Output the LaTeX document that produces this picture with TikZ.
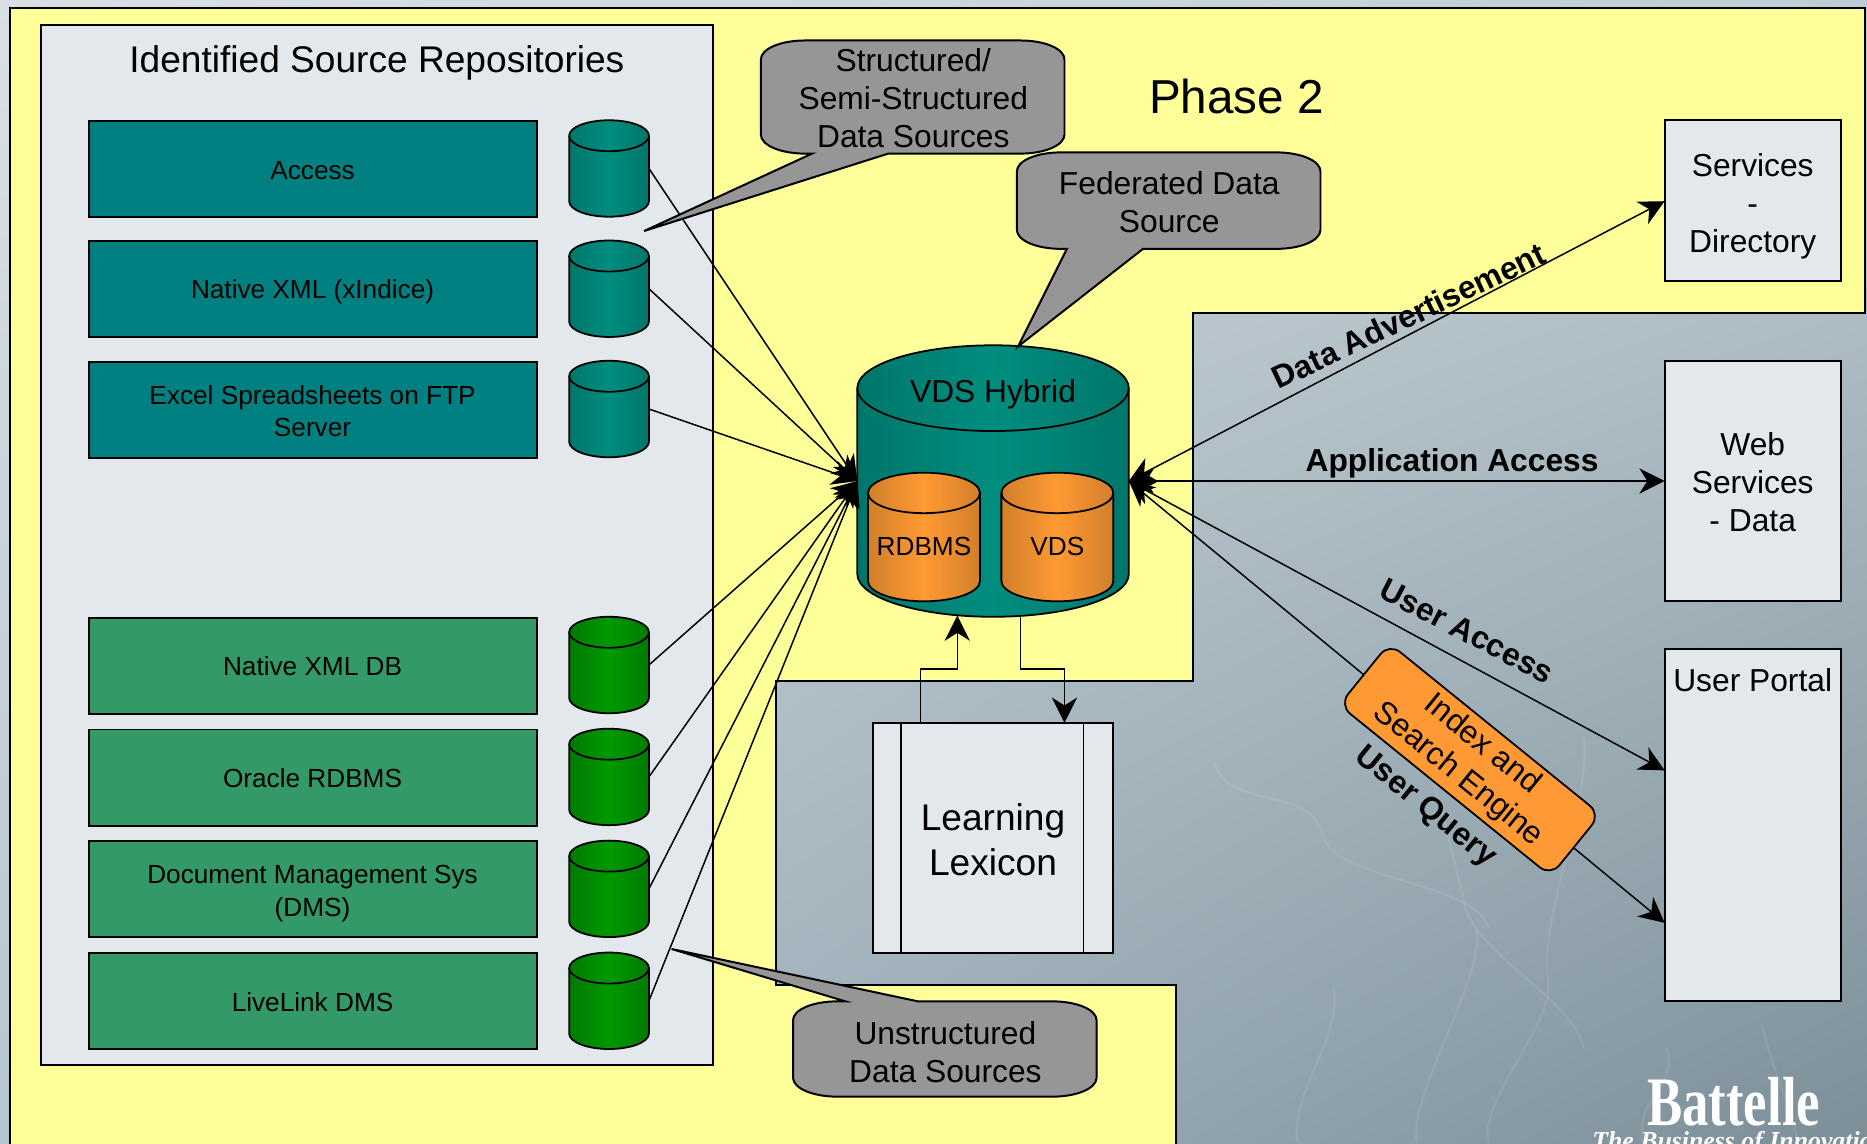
\documentclass[tikz,border=0pt]{standalone}
\usepackage{fontspec}
\setmainfont{Liberation Sans}
\newfontfamily\logofont{Liberation Serif}
\usetikzlibrary{arrows.meta,shadings}
\definecolor{panelc}{HTML}{E3E8EC}
\definecolor{yellowc}{HTML}{FFFF99}
\definecolor{tealc}{HTML}{008080}
\definecolor{greenc}{HTML}{339966}
\definecolor{grayc}{HTML}{969696}
\definecolor{orangec}{HTML}{FF9933}
\definecolor{orangee}{HTML}{D17F2B}
\definecolor{teale}{HTML}{00766A}
\definecolor{tealm}{HTML}{008E7F}
\definecolor{greene}{HTML}{007A00}
\definecolor{greenm}{HTML}{009900}
\definecolor{bgul}{HTML}{D8E0E4}
\definecolor{bgur}{HTML}{C0CCD3}
\definecolor{bgll}{HTML}{B4C6D0}
\definecolor{bglr}{HTML}{7C8F99}
\tikzset{
  x=0.6pt,y=-0.6pt,
  frameline/.style={draw=black,line width=1pt},
  srcbox/.style={frameline,minimum width=226pt,minimum height=48.4pt,inner sep=0pt,outer sep=0pt},
  srclab/.style={inner sep=0pt,align=center,font=\fontsize{13.2}{16.2}\selectfont},
  svcbox/.style={frameline,fill=panelc,minimum width=88.8pt,inner sep=0pt,outer sep=0pt},
  lab/.style={inner sep=0pt,align=center,font=\fontsize{16}{19.2}\selectfont},
  blab/.style={inner sep=0pt,font=\fontsize{16}{19.2}\selectfont\bfseries},
  arr/.style={line width=0.75pt,-{Stealth[length=12.7pt,width=12.7pt,inset=4pt]}},
  darr/.style={line width=0.75pt,{Stealth[length=12.7pt,width=12.7pt,inset=4pt]}-{Stealth[length=12.7pt,width=12.7pt,inset=4pt]}},
  streak/.style={white,opacity=.08,line width=1.2pt},
}
% name, x1, x2, top, bottom, end radius, edge colour, middle colour
\newcommand{\dbcyl}[8]{%
  \pgfmathsetmacro\myCx{(#2+#3)/2}\pgfmathsetmacro\myKx{0.5523*(#3-#2)/2}%
  \pgfmathsetmacro\myYt{#4+#6}\pgfmathsetmacro\myYb{#5-#6}\pgfmathsetmacro\myKy{0.5523*#6}%
  \pgfmathsetmacro\myCy{(#4+#5)/2}%
  \pgfmathsetmacro\myW{0.6*(#3-#2)}\pgfmathsetmacro\myH{0.6*(#5-#4)}%
  \shade[left color=#7,right color=#7,middle color=#8,draw=black,line width=.9pt]
    (#2,\myYt) -- (#2,\myYb)
    .. controls (#2,\myYb+\myKy) and (\myCx-\myKx,#5) .. (\myCx,#5)
    .. controls (\myCx+\myKx,#5) and (#3,\myYb+\myKy) .. (#3,\myYb)
    -- (#3,\myYt)
    .. controls (#3,\myYt-\myKy) and (\myCx+\myKx,#4) .. (\myCx,#4)
    .. controls (\myCx-\myKx,#4) and (#2,\myYt-\myKy) .. (#2,\myYt) -- cycle;
  \draw[line width=.9pt]
    (#2,\myYt) .. controls (#2,\myYt+\myKy) and (\myCx-\myKx,\myYt+#6) .. (\myCx,\myYt+#6)
    .. controls (\myCx+\myKx,\myYt+#6) and (#3,\myYt+\myKy) .. (#3,\myYt);
  \node[minimum width=\myW pt,minimum height=\myH pt,inner sep=0pt,outer sep=0pt] (#1) at (\myCx,\myCy) {};
}
\begin{document}
\begin{tikzpicture}
\useasboundingbox (0,0) rectangle (1568,960);
\clip (0,0) rectangle (1568,960);
% background
\shade[upper left=bgul,upper right=bgur,lower left=bgll,lower right=bglr] (0,0) rectangle (1568,960);
\foreach \a/\b/\c/\d in {1180/560/1230/760,1230/760/1330/880,1020/640/1110/700,1110/700/1250/780,1400/880/1380/960,1480/860/1510/960,1330/620/1300/820,1300/820/1250/960,1120/830/1090/960,1240/780/1190/960}{
  \draw[streak] (\a,\b) .. controls (\a+8,\b+40) and (\c-8,\d-40) .. (\c,\d);
}
% yellow field
\draw[frameline,fill=yellowc] (8,7) -- (1566,7) -- (1566,263) -- (1002,263) -- (1002,572) -- (652,572) -- (652,827) -- (988,827) -- (988,970) -- (8,970) -- cycle;
% repositories panel
\node[frameline,fill=panelc,minimum width=339pt,minimum height=523.8pt,inner sep=0pt,outer sep=0pt] (panel) at (316.7,457.7) {};
\node[inner sep=0pt,font=\fontsize{18.7}{22.8}\selectfont] (paneltitle) at (316.5,53) {Identified Source Repositories};
% source boxes
\node[srcbox,fill=tealc] (b1) at (262.8,142) {};
\node[srcbox,fill=tealc] (b2) at (262.8,243) {};
\node[srcbox,fill=tealc] (b3) at (262.8,344) {};
\node[srcbox,fill=greenc] (b4) at (262.8,559) {};
\node[srcbox,fill=greenc] (b5) at (262.8,653) {};
\node[srcbox,fill=greenc] (b6) at (262.8,747) {};
\node[srcbox,fill=greenc] (b7) at (262.8,841) {};
\node[srclab] (t1) at (262.5,143) {Access};
\node[srclab] (t2) at (262.5,245) {Native XML (xIndice)};
\node[srclab] (t3) at (262.5,345) {Excel Spreadsheets on FTP\\Server};
\node[srclab] (t4) at (262.5,559.5) {Native XML DB};
\node[srclab] (t5) at (262.5,653.5) {Oracle RDBMS};
\node[srclab] (t6) at (262.5,750.5) {Document Management Sys\\(DMS)};
\node[srclab] (t7) at (262.5,841.5) {LiveLink DMS};
% source cylinders
\dbcyl{c1}{478}{545}{101}{182}{13}{teale}{tealm}
\dbcyl{c2}{478}{545}{202}{283}{13}{teale}{tealm}
\dbcyl{c3}{478}{545}{303}{384}{13}{teale}{tealm}
\dbcyl{c4}{478}{545}{518}{599}{13}{greene}{greenm}
\dbcyl{c5}{478}{545}{612}{693}{13}{greene}{greenm}
\dbcyl{c6}{478}{545}{706}{787}{13}{greene}{greenm}
\dbcyl{c7}{478}{545}{800}{881}{13}{greene}{greenm}
% VDS hybrid
\dbcyl{vds}{720}{948}{290}{518}{36}{teale}{tealm}
\dbcyl{rdb}{729}{823}{397}{505}{17}{orangee}{orangec}
\dbcyl{vdsin}{841}{935}{397}{505}{17}{orangee}{orangec}
\node[lab] (vdst) at (834,331) {VDS Hybrid};
\node[srclab] (rdbt) at (776,459) {RDBMS};
\node[srclab] (vdsint) at (888,459) {VDS};
% incoming connectors
\foreach \n in {c1,c2,c3,c4,c5,c6,c7}{\draw[arr] (\n.east) -- (vds.west);}
% right-hand boxes
\node[svcbox,minimum height=81pt] (dir) at (1472,168.5) {};
\node[lab] (dirt) at (1472,173.5) {Services\\-\\Directory};
\node[svcbox,minimum height=121.2pt] (web) at (1472,404) {};
\node[lab] (webt) at (1472,405) {Web\\Services\\- Data};
\node[svcbox,minimum height=177.6pt] (portal) at (1472,693) {};
\node[lab] (portalt) at (1472,571.5) {User Portal};
\coordinate (dirin) at (1398,169);
\coordinate (portalA) at (1398,647);
\coordinate (portalB) at (1398,775);
\draw[darr] (vds.east) -- (dirin);
\draw[darr] (vds.east) -- (web.west);
\draw[darr] (vds.east) -- (portalA);
\draw[darr] (vds.east) -- (portalB);
\node[blab,rotate=25.5] (ladv) at (1183,265) {Data Advertisement};
\node[blab] (lapp) at (1219.5,389) {Application Access};
\node[blab,rotate=-27.5] (luse) at (1232,530) {User Access};
\node[blab,rotate=-39] (lqry) at (1197,678) {User Query};
% index engine
\node[draw=black,line width=.9pt,fill=orangec,rounded corners=7pt,rotate=-39,minimum width=137pt,minimum height=40pt,inner sep=0pt,align=center,font=\fontsize{16}{19.2}\selectfont] (idx) at (1234.5,638) {Index and\\Search Engine};
% lexicon
\node[frameline,fill=panelc,minimum width=121.2pt,minimum height=115.8pt,inner sep=0pt,outer sep=0pt] (lex) at (834,703.5) {};
\draw[line width=.9pt] (757,607) -- (757,800) (910,607) -- (910,800);
\node[inner sep=0pt,align=center,font=\fontsize{18.7}{22.8}\selectfont] (lext) at (834,705.5) {Learning\\Lexicon};
\coordinate (lexout) at (773,607);
\coordinate (lexin) at (894,607);
\coordinate (vdsout) at (857,517);
\coordinate (vdsbot) at (804,517);
\coordinate (ja) at (790,562);
\coordinate (jb) at (875,562);
\draw[arr] (lexout) |- (ja) -| (vdsbot);
\draw[arr] (vdsout) |- (jb) -| (lexin);
% callouts
\draw[frameline,fill=grayc] (676,34) .. controls (655.5,34) and (639,41) .. (639,50) -- (639,113)
  .. controls (639,122) and (655.5,129) .. (676,129)
  -- (682,129) -- (541,194) -- (746,129) -- (857,129)
  .. controls (877.5,129) and (894,122) .. (894,113) -- (894,50)
  .. controls (894,41) and (877.5,34) .. (857,34) -- cycle;
\node[lab] (cs) at (767,82.5) {Structured/\\Semi-Structured\\Data Sources};
\draw[frameline,fill=grayc] (891,128) .. controls (870.5,128) and (854,135) .. (854,144) -- (854,193)
  .. controls (854,202) and (870.5,209) .. (891,209)
  -- (896,209) -- (855,291) -- (960,209) -- (1072,209)
  .. controls (1092.5,209) and (1109,202) .. (1109,193) -- (1109,144)
  .. controls (1109,135) and (1092.5,128) .. (1072,128) -- cycle;
\node[lab] (cf) at (982,170) {Federated Data\\Source};
\draw[frameline,fill=grayc] (710,841) -- (564,797) -- (771,841) -- (884,841)
  .. controls (904.5,841) and (921,848) .. (921,857) -- (921,905)
  .. controls (921,914) and (904.5,921) .. (884,921) -- (703,921)
  .. controls (682.5,921) and (666,914) .. (666,905) -- (666,857)
  .. controls (666,848) and (682.5,841) .. (703,841) -- cycle;
\node[lab] (cu) at (794,883.5) {Unstructured\\Data Sources};
% title and logo
\node[inner sep=0pt,font=\fontsize{24}{28}\selectfont] (phase) at (1038.5,81) {Phase 2};
\node[white,inner sep=0pt,xscale=.76,font=\logofont\bfseries\fontsize{35}{35}\selectfont] (logo) at (1456,925) {Battelle};
\node[white,anchor=base west,inner sep=0pt,font=\logofont\itshape\bfseries\fontsize{13}{13}\selectfont] (tag) at (1337,965) {The Business of Innovation};
\end{tikzpicture}
\end{document}
